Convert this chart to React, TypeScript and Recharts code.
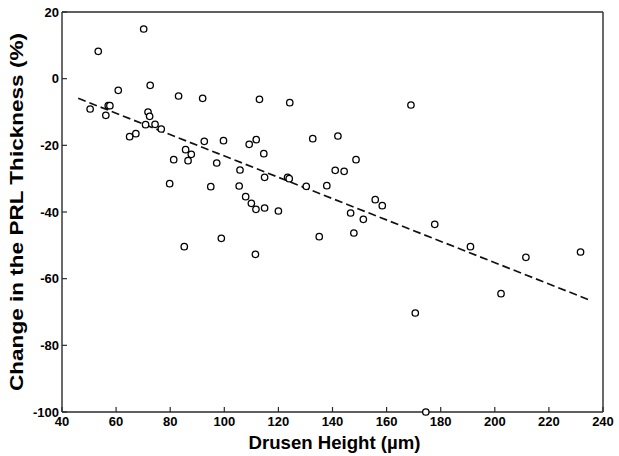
import {
  Scatter,
  ScatterChart,
  XAxis,
  YAxis,
} from "recharts";

// drusen height (µm) vs change in PRL thickness (%)
const DRUSEN_HEIGHT = [
  70.2, 53.4, 72.6, 60.8, 83.1, 92.0, 113.0, 124.2, 169.0, 50.4, 57.1, 57.7,
  56.2, 71.8, 72.4, 70.9, 74.4, 76.7, 65.0, 67.3, 92.6, 99.7, 85.7, 87.8, 86.6,
  81.3, 97.2, 109.2, 111.8, 105.8, 79.8, 95.0, 105.5, 107.9, 110.0, 111.7,
  98.9, 85.2, 111.5, 132.7, 142.0, 114.6, 148.7, 141.0, 144.3, 114.9, 123.4,
  124.0, 130.3, 137.9, 155.8, 158.4, 114.9, 120.0, 146.7, 151.4, 147.9, 135.1,
  177.8, 170.6, 174.5, 191.0, 211.5, 231.7, 202.3,
];
const PRL_CHANGE = [
  14.9, 8.2, -2.0, -3.5, -5.2, -5.9, -6.2, -7.2, -7.9, -9.1, -8.1, -8.1, -11.0,
  -10.0, -11.3, -13.8, -13.7, -15.1, -17.4, -16.5, -18.8, -18.6, -21.3, -22.7,
  -24.6, -24.3, -25.3, -19.7, -18.3, -27.4, -31.5, -32.4, -32.2, -35.4, -37.4,
  -39.2, -47.9, -50.4, -52.7, -18.0, -17.2, -22.5, -24.3, -27.5, -27.8, -29.6,
  -29.6, -30.0, -32.3, -32.1, -36.3, -38.1, -38.8, -39.7, -40.3, -42.2, -46.3,
  -47.4, -43.7, -70.3, -100, -50.4, -53.6, -52.0, -64.5,
];

// dashed linear fit, end points
const FIT_X = [46, 235];
const FIT_Y = [-5.9, -66.4];

const X_TICKS = [40, 60, 80, 100, 120, 140, 160, 180, 200, 220, 240];
const Y_TICKS = [-100, -80, -60, -40, -20, 0, 20];

const points = DRUSEN_HEIGHT.map((h, i) => ({ x: h, y: PRL_CHANGE[i] }));
const fit = FIT_X.map((x, i) => ({ x, y: FIT_Y[i] }));

const AXIS_COLOR = "#2a2a2a";
const tickStyle = { fill: "#000", fontSize: 13, fontWeight: "bold" };

function OpenCircle(props: any) {
  const { cx, cy } = props;
  if (cx == null || cy == null) return null;
  return (
    <circle cx={cx} cy={cy} r={3.2} fill="#fff" stroke="#000" strokeWidth={1.3} />
  );
}

function YTitle({ viewBox }: any) {
  const cx = 17;
  const cy = viewBox.y + viewBox.height / 2;
  return (
    <text
      x={cx}
      y={cy}
      transform={`rotate(-90 ${cx} ${cy})`}
      textAnchor="middle"
      dominantBaseline="central"
      fontSize={18}
      fontWeight="bold"
      fill="#000"
      textLength={358}
      lengthAdjust="spacingAndGlyphs"
    >
      Change in the PRL Thickness (%)
    </text>
  );
}

function XTitle({ viewBox }: any) {
  const cx = viewBox.x + viewBox.width / 2 + 2;
  return (
    <text
      x={cx}
      y={449}
      textAnchor="middle"
      fontSize={18}
      fontWeight="bold"
      fill="#000"
      textLength={172}
      lengthAdjust="spacingAndGlyphs"
    >
      Drusen Height (µm)
    </text>
  );
}

export default function App() {
  return (
    <div
      style={{
        position: "absolute",
        left: 0,
        top: 0,
        background: "#fff",
        fontFamily: "'Liberation Sans', Arial, sans-serif",
      }}
    >
      <ScatterChart
        width={619}
        height={456}
        margin={{ top: 11, right: 15, left: 0, bottom: 0 }}
      >
        <XAxis
          xAxisId="main"
          dataKey="x"
          type="number"
          domain={[40, 240]}
          ticks={X_TICKS}
          height={44}
          tick={tickStyle}
          tickSize={-5}
          tickMargin={10}
          tickLine={{ stroke: AXIS_COLOR, strokeWidth: 1.2 }}
          axisLine={{ stroke: AXIS_COLOR, strokeWidth: 1.4 }}
          label={<XTitle />}
        />
        <XAxis
          xAxisId="top"
          orientation="top"
          dataKey="x"
          type="number"
          domain={[40, 240]}
          ticks={X_TICKS}
          height={1}
          tick={false}
          tickSize={-5}
          tickLine={{ stroke: AXIS_COLOR, strokeWidth: 1.2 }}
          axisLine={{ stroke: AXIS_COLOR, strokeWidth: 1.4 }}
        />
        <YAxis
          yAxisId="main"
          dataKey="y"
          type="number"
          domain={[-100, 20]}
          ticks={Y_TICKS}
          width={62}
          tick={tickStyle}
          tickSize={-5}
          tickMargin={8}
          tickLine={{ stroke: AXIS_COLOR, strokeWidth: 1.2 }}
          axisLine={{ stroke: AXIS_COLOR, strokeWidth: 1.4 }}
          label={<YTitle />}
        />
        <YAxis
          yAxisId="right"
          orientation="right"
          dataKey="y"
          type="number"
          domain={[-100, 20]}
          ticks={Y_TICKS}
          width={1}
          tick={false}
          tickSize={-5}
          tickLine={{ stroke: AXIS_COLOR, strokeWidth: 1.2 }}
          axisLine={{ stroke: AXIS_COLOR, strokeWidth: 1.4 }}
        />
        <Scatter
          xAxisId="main"
          yAxisId="main"
          data={fit}
          line={{ stroke: "#111", strokeWidth: 1.7, strokeDasharray: "8 4" }}
          shape={() => <g />}
          isAnimationActive={false}
        />
        <Scatter
          xAxisId="top"
          yAxisId="right"
          data={fit}
          shape={() => <g />}
          isAnimationActive={false}
        />
        <Scatter
          xAxisId="main"
          yAxisId="main"
          data={points}
          shape={OpenCircle}
          isAnimationActive={false}
        />
      </ScatterChart>
    </div>
  );
}
